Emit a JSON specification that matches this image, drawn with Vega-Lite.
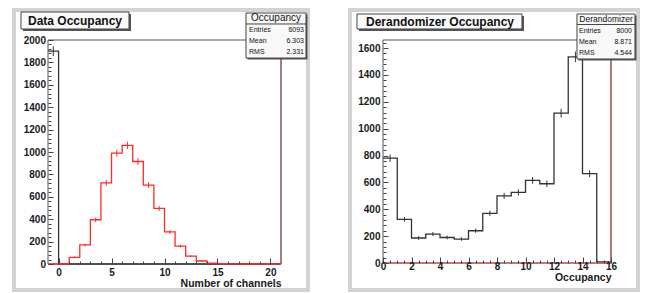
{
 "$schema": "https://vega.github.io/schema/vega-lite/v6.json",
 "background": "white",
 "padding": {"left": 12, "top": 7, "right": 5, "bottom": 2},
 "spacing": 102,
 "bounds": "flush",
 "config": {
   "view": {"stroke": null},
   "axis": {"domain": false, "grid": false, "labelFont": "Liberation Sans", "labelFontWeight": "bold", "labelFontSize": 10, "labelColor": "#1a1a1a", "tickColor": "#444444", "tickWidth": 1, "labelFlush": false, "labelOverlap": false, "titleFont": "Liberation Sans", "titleFontWeight": "bold", "titleFontSize": 10.5, "titleColor": "#1a1a1a"},
   "text": {"font": "Liberation Sans"}
 },
 "datasets": {
   "boxes": [
     {"p": "L", "title": "Data Occupancy", "name": "Occupancy", "keys": ["Entries", "Mean", "RMS"], "vals": ["6093", "6.303", "2.331"]},
     {"p": "R", "title": "Derandomizer Occupancy", "name": "Derandomizer", "keys": ["Entries", "Mean", "RMS"], "vals": ["8000", "8.871", "4.544"]}
   ],
   "hist": [
     {"p": "L", "s": "black", "x": -1, "c": -0.5, "n": 1900, "e": 44},
     {"p": "L", "s": "black", "x": 0, "c": 0.5, "n": 0, "e": 0},
     {"p": "L", "s": "black", "x": 1, "c": 1.5, "n": 0, "e": 0},
     {"p": "L", "s": "black", "x": 2, "c": 2.5, "n": 0, "e": 0},
     {"p": "L", "s": "black", "x": 3, "c": 3.5, "n": 0, "e": 0},
     {"p": "L", "s": "black", "x": 4, "c": 4.5, "n": 0, "e": 0},
     {"p": "L", "s": "black", "x": 5, "c": 5.5, "n": 0, "e": 0},
     {"p": "L", "s": "black", "x": 6, "c": 6.5, "n": 0, "e": 0},
     {"p": "L", "s": "black", "x": 7, "c": 7.5, "n": 0, "e": 0},
     {"p": "L", "s": "black", "x": 8, "c": 8.5, "n": 0, "e": 0},
     {"p": "L", "s": "black", "x": 9, "c": 9.5, "n": 0, "e": 0},
     {"p": "L", "s": "black", "x": 10, "c": 10.5, "n": 0, "e": 0},
     {"p": "L", "s": "black", "x": 11, "c": 11.5, "n": 0, "e": 0},
     {"p": "L", "s": "black", "x": 12, "c": 12.5, "n": 0, "e": 0},
     {"p": "L", "s": "black", "x": 13, "c": 13.5, "n": 0, "e": 0},
     {"p": "L", "s": "black", "x": 14, "c": 14.5, "n": 0, "e": 0},
     {"p": "L", "s": "black", "x": 15, "c": 15.5, "n": 0, "e": 0},
     {"p": "L", "s": "black", "x": 16, "c": 16.5, "n": 0, "e": 0},
     {"p": "L", "s": "black", "x": 17, "c": 17.5, "n": 0, "e": 0},
     {"p": "L", "s": "black", "x": 18, "c": 18.5, "n": 0, "e": 0},
     {"p": "L", "s": "black", "x": 19, "c": 19.5, "n": 0, "e": 0},
     {"p": "L", "s": "black", "x": 20, "c": 20.5, "n": 0, "e": 0},
     {"p": "L", "s": "black", "x": 21, "n": 0},
     {"p": "L", "s": "red", "x": -1, "c": -0.5, "n": 0, "e": 0},
     {"p": "L", "s": "red", "x": 0, "c": 0.5, "n": 0, "e": 0},
     {"p": "L", "s": "red", "x": 1, "c": 1.5, "n": 60, "e": 8},
     {"p": "L", "s": "red", "x": 2, "c": 2.5, "n": 170, "e": 13},
     {"p": "L", "s": "red", "x": 3, "c": 3.5, "n": 395, "e": 20},
     {"p": "L", "s": "red", "x": 4, "c": 4.5, "n": 725, "e": 27},
     {"p": "L", "s": "red", "x": 5, "c": 5.5, "n": 990, "e": 31},
     {"p": "L", "s": "red", "x": 6, "c": 6.5, "n": 1060, "e": 33},
     {"p": "L", "s": "red", "x": 7, "c": 7.5, "n": 915, "e": 30},
     {"p": "L", "s": "red", "x": 8, "c": 8.5, "n": 705, "e": 27},
     {"p": "L", "s": "red", "x": 9, "c": 9.5, "n": 497, "e": 22},
     {"p": "L", "s": "red", "x": 10, "c": 10.5, "n": 286, "e": 17},
     {"p": "L", "s": "red", "x": 11, "c": 11.5, "n": 160, "e": 13},
     {"p": "L", "s": "red", "x": 12, "c": 12.5, "n": 70, "e": 8},
     {"p": "L", "s": "red", "x": 13, "c": 13.5, "n": 27, "e": 5},
     {"p": "L", "s": "red", "x": 14, "c": 14.5, "n": 8, "e": 3},
     {"p": "L", "s": "red", "x": 15, "c": 15.5, "n": 3, "e": 2},
     {"p": "L", "s": "red", "x": 16, "c": 16.5, "n": 1, "e": 1},
     {"p": "L", "s": "red", "x": 17, "c": 17.5, "n": 0, "e": 0},
     {"p": "L", "s": "red", "x": 18, "c": 18.5, "n": 0, "e": 0},
     {"p": "L", "s": "red", "x": 19, "c": 19.5, "n": 0, "e": 0},
     {"p": "L", "s": "red", "x": 20, "c": 20.5, "n": 0, "e": 0},
     {"p": "L", "s": "red", "x": 21, "n": 0},
     {"p": "R", "s": "black", "x": 0, "c": 0.5, "n": 780, "e": 28},
     {"p": "R", "s": "black", "x": 1, "c": 1.5, "n": 325, "e": 18},
     {"p": "R", "s": "black", "x": 2, "c": 2.5, "n": 186, "e": 14},
     {"p": "R", "s": "black", "x": 3, "c": 3.5, "n": 215, "e": 15},
     {"p": "R", "s": "black", "x": 4, "c": 4.5, "n": 190, "e": 14},
     {"p": "R", "s": "black", "x": 5, "c": 5.5, "n": 178, "e": 13},
     {"p": "R", "s": "black", "x": 6, "c": 6.5, "n": 240, "e": 15},
     {"p": "R", "s": "black", "x": 7, "c": 7.5, "n": 370, "e": 19},
     {"p": "R", "s": "black", "x": 8, "c": 8.5, "n": 500, "e": 22},
     {"p": "R", "s": "black", "x": 9, "c": 9.5, "n": 525, "e": 23},
     {"p": "R", "s": "black", "x": 10, "c": 10.5, "n": 615, "e": 25},
     {"p": "R", "s": "black", "x": 11, "c": 11.5, "n": 590, "e": 24},
     {"p": "R", "s": "black", "x": 12, "c": 12.5, "n": 1115, "e": 33},
     {"p": "R", "s": "black", "x": 13, "c": 13.5, "n": 1535, "e": 39},
     {"p": "R", "s": "black", "x": 14, "c": 14.5, "n": 665, "e": 26},
     {"p": "R", "s": "black", "x": 15, "c": 15.5, "n": 8, "e": 3},
     {"p": "R", "s": "black", "x": 16, "n": 0}
   ]
 },
 "hconcat": [
  {
   "width": 233, "height": 224,
   "layer": [
    {
     "data": {"name": "boxes"}, "transform": [{"filter": "datum.p === 'L'"}],
     "layer": [
      {"mark": {"type": "rect", "fill": "white", "stroke": "#d3d3d3", "strokeWidth": 4},
       "encoding": {"x": {"datum": -4.21, "type": "quantitative", "scale": {"domain": [-1, 21], "nice": false, "zero": false}, "axis": null}, "x2": {"datum": 23.55},
                    "y": {"datum": 2268, "type": "quantitative", "scale": {"domain": [0, 2000], "nice": false, "zero": false}, "axis": null}, "y2": {"datum": -232}}},
      {"mark": {"type": "rect", "fill": "white", "fillOpacity": 0, "stroke": "#555555", "strokeWidth": 1},
       "encoding": {"x": {"datum": -1, "type": "quantitative", "scale": {"domain": [-1, 21], "nice": false, "zero": false}, "axis": null}, "x2": {"datum": 21},
                    "y": {"datum": 0, "type": "quantitative", "scale": {"domain": [0, 2000], "nice": false, "zero": false}, "axis": null}, "y2": {"datum": 2000}}}
     ]
    },
    {
     "data": {"name": "hist"}, "transform": [{"filter": "datum.p === 'L'"}],
     "resolve": {"axis": {"x": "independent", "y": "independent"}},
     "layer": [
      {"transform": [{"filter": "datum.s === 'black'"}],
       "mark": {"type": "line", "interpolate": "step-after", "strokeWidth": 1.3, "color": "#333333"},
       "encoding": {
        "x": {"field": "x", "type": "quantitative", "scale": {"domain": [-1, 21], "nice": false, "zero": false},
              "axis": {"zindex": 1, "orient": "bottom", "values": [0,1,2,3,4,6,7,8,9,11,12,13,14,16,17,18,19], "labels": false, "tickSize": -3, "title": null}},
        "y": {"field": "n", "type": "quantitative", "scale": {"domain": [0, 2000], "nice": false, "zero": false},
              "axis": {"zindex": 1, "orient": "left", "values": [40,80,120,160,240,280,320,360,440,480,520,560,640,680,720,760,840,880,920,960,1040,1080,1120,1160,1240,1280,1320,1360,1440,1480,1520,1560,1640,1680,1720,1760,1840,1880,1920,1960], "labels": false, "tickSize": -3, "title": null}}
       }},
      {"transform": [{"filter": "datum.s === 'red'"}],
       "mark": {"type": "line", "interpolate": "step-after", "strokeWidth": 1.3, "color": "#ff2a2a"},
       "encoding": {
        "x": {"field": "x", "type": "quantitative", "scale": {"domain": [-1, 21], "nice": false, "zero": false},
              "axis": {"zindex": 1, "orient": "bottom", "values": [0, 5, 10, 15, 20], "labelExpr": "'' + datum.value", "tickSize": -6, "labelPadding": 9.5,
                       "title": "Number of channels", "titleAnchor": "end", "titlePadding": 1}},
        "y": {"field": "n", "type": "quantitative", "scale": {"domain": [0, 2000], "nice": false, "zero": false},
              "axis": {"zindex": 1, "orient": "left", "values": [0,200,400,600,800,1000,1200,1400,1600,1800,2000], "labelExpr": "'' + datum.value", "tickSize": -5, "labelPadding": 7.5, "title": null}}
       }},
      {"mark": {"type": "errorbar", "thickness": 1},
       "encoding": {
        "x": {"field": "c", "type": "quantitative", "scale": {"domain": [-1, 21], "nice": false, "zero": false}, "axis": null},
        "y": {"field": "n", "type": "quantitative", "scale": {"domain": [0, 2000], "nice": false, "zero": false}, "axis": null},
        "yError": {"field": "e"},
        "color": {"field": "s", "type": "nominal", "scale": {"domain": ["red", "black"], "range": ["#ff2a2a", "#333333"]}, "legend": null}
       }}
     ]
    },
    {
     "data": {"name": "boxes"}, "transform": [{"filter": "datum.p === 'L'"}],
     "layer": [
      {"mark": {"type": "rule", "color": "#a85050", "strokeWidth": 1},
       "encoding": {"x": {"datum": 21, "type": "quantitative", "scale": {"domain": [-1, 21], "nice": false, "zero": false}, "axis": null},
                    "y": {"datum": 0, "type": "quantitative", "scale": {"domain": [0, 2000], "nice": false, "zero": false}, "axis": null}, "y2": {"datum": 2000}}},
      {"mark": {"type": "rect", "fill": "#555555"},
       "encoding": {"x": {"datum": -3.36, "type": "quantitative", "scale": {"domain": [-1, 21], "nice": false, "zero": false}, "axis": null}, "x2": {"datum": 6.837},
                    "y": {"datum": 2232, "type": "quantitative", "scale": {"domain": [0, 2000], "nice": false, "zero": false}, "axis": null}, "y2": {"datum": 2080}}},
      {"mark": {"type": "rect", "fill": "#fafafa", "stroke": "#444444", "strokeWidth": 1},
       "encoding": {"x": {"datum": -3.55, "type": "quantitative", "scale": {"domain": [-1, 21], "nice": false, "zero": false}, "axis": null}, "x2": {"datum": 6.648},
                    "y": {"datum": 2250, "type": "quantitative", "scale": {"domain": [0, 2000], "nice": false, "zero": false}, "axis": null}, "y2": {"datum": 2098}}},
      {"mark": {"type": "text", "fontSize": 12, "fontWeight": "bold", "color": "#111111", "align": "center", "baseline": "middle"},
       "encoding": {"x": {"datum": 1.55, "type": "quantitative", "scale": {"domain": [-1, 21], "nice": false, "zero": false}, "axis": null},
                    "y": {"datum": 2170, "type": "quantitative", "scale": {"domain": [0, 2000], "nice": false, "zero": false}, "axis": null},
                    "text": {"field": "title"}}},
      {"mark": {"type": "rect", "fill": "#555555"},
       "encoding": {"x": {"datum": 17.84, "type": "quantitative", "scale": {"domain": [-1, 21], "nice": false, "zero": false}, "axis": null}, "x2": {"datum": 23.5},
                    "y": {"datum": 2228, "type": "quantitative", "scale": {"domain": [0, 2000], "nice": false, "zero": false}, "axis": null}, "y2": {"datum": 1826}}},
      {"mark": {"type": "rect", "fill": "#f8f8f8", "stroke": "#444444", "strokeWidth": 1},
       "encoding": {"x": {"datum": 17.695, "type": "quantitative", "scale": {"domain": [-1, 21], "nice": false, "zero": false}, "axis": null}, "x2": {"datum": 23.36},
                    "y": {"datum": 2241, "type": "quantitative", "scale": {"domain": [0, 2000], "nice": false, "zero": false}, "axis": null}, "y2": {"datum": 1839}}},
      {"mark": {"type": "rule", "color": "#444444", "strokeWidth": 1},
       "encoding": {"x": {"datum": 17.695, "type": "quantitative", "scale": {"domain": [-1, 21], "nice": false, "zero": false}, "axis": null}, "x2": {"datum": 23.36},
                    "y": {"datum": 2143, "type": "quantitative", "scale": {"domain": [0, 2000], "nice": false, "zero": false}, "axis": null}}},
      {"mark": {"type": "text", "fontSize": 10, "color": "#111111", "align": "center", "baseline": "middle"},
       "encoding": {"x": {"datum": 20.53, "type": "quantitative", "scale": {"domain": [-1, 21], "nice": false, "zero": false}, "axis": null},
                    "y": {"datum": 2192, "type": "quantitative", "scale": {"domain": [0, 2000], "nice": false, "zero": false}, "axis": null},
                    "text": {"field": "name"}}},
      {"mark": {"type": "text", "fontSize": 7, "color": "#111111", "align": "left", "baseline": "middle", "lineHeight": 11},
       "encoding": {"x": {"datum": 17.98, "type": "quantitative", "scale": {"domain": [-1, 21], "nice": false, "zero": false}, "axis": null},
                    "y": {"datum": 2089, "type": "quantitative", "scale": {"domain": [0, 2000], "nice": false, "zero": false}, "axis": null},
                    "text": {"field": "keys"}}},
      {"mark": {"type": "text", "fontSize": 7, "color": "#111111", "align": "right", "baseline": "middle", "lineHeight": 11},
       "encoding": {"x": {"datum": 23.17, "type": "quantitative", "scale": {"domain": [-1, 21], "nice": false, "zero": false}, "axis": null},
                    "y": {"datum": 2089, "type": "quantitative", "scale": {"domain": [0, 2000], "nice": false, "zero": false}, "axis": null},
                    "text": {"field": "vals"}}}
     ]
    }
   ]
  },
  {
   "width": 228, "height": 223,
   "layer": [
    {
     "data": {"name": "boxes"}, "transform": [{"filter": "datum.p === 'R'"}],
     "layer": [
      {"mark": {"type": "rect", "fill": "white", "stroke": "#d3d3d3", "strokeWidth": 4},
       "encoding": {"x": {"datum": -2.316, "type": "quantitative", "scale": {"domain": [0, 16], "nice": false, "zero": false}, "axis": null}, "x2": {"datum": 17.895},
                    "y": {"datum": 1883, "type": "quantitative", "scale": {"domain": [0, 1660], "nice": false, "zero": false}, "axis": null}, "y2": {"datum": -201}}},
      {"mark": {"type": "rect", "fill": "white", "fillOpacity": 0, "stroke": "#555555", "strokeWidth": 1},
       "encoding": {"x": {"datum": 0, "type": "quantitative", "scale": {"domain": [0, 16], "nice": false, "zero": false}, "axis": null}, "x2": {"datum": 16},
                    "y": {"datum": 0, "type": "quantitative", "scale": {"domain": [0, 1660], "nice": false, "zero": false}, "axis": null}, "y2": {"datum": 1660}}}
     ]
    },
    {
     "data": {"name": "hist"}, "transform": [{"filter": "datum.p === 'R'"}],
     "resolve": {"axis": {"x": "independent", "y": "independent"}},
     "layer": [
      {"mark": {"type": "line", "interpolate": "step-after", "strokeWidth": 1.3, "color": "#333333"},
       "encoding": {
        "x": {"field": "x", "type": "quantitative", "scale": {"domain": [0, 16], "nice": false, "zero": false},
              "axis": {"zindex": 1, "orient": "bottom", "values": [0, 2, 4, 6, 8, 10, 12, 14, 16], "labelExpr": "'' + datum.value", "tickSize": -6, "labelPadding": 4.5,
                       "title": "Occupancy", "titleAnchor": "end", "titlePadding": 1}},
        "y": {"field": "n", "type": "quantitative", "scale": {"domain": [0, 1660], "nice": false, "zero": false},
              "axis": {"zindex": 1, "orient": "left", "values": [0,200,400,600,800,1000,1200,1400,1600], "labelExpr": "'' + datum.value", "tickSize": -5, "labelPadding": 8, "title": null}}
       }},
      {"mark": {"type": "errorbar", "thickness": 1, "color": "#333333"},
       "encoding": {
        "x": {"field": "c", "type": "quantitative", "scale": {"domain": [0, 16], "nice": false, "zero": false},
              "axis": {"zindex": 1, "orient": "bottom", "values": [0.5,1,1.5,2.5,3,3.5,4.5,5,5.5,6.5,7,7.5,8.5,9,9.5,10.5,11,11.5,12.5,13,13.5,14.5,15,15.5], "labels": false, "tickSize": -3, "title": null}},
        "y": {"field": "n", "type": "quantitative", "scale": {"domain": [0, 1660], "nice": false, "zero": false},
              "axis": {"zindex": 1, "orient": "left", "values": [40,80,120,160,240,280,320,360,440,480,520,560,640,680,720,760,840,880,920,960,1040,1080,1120,1160,1240,1280,1320,1360,1440,1480,1520,1560,1640], "labels": false, "tickSize": -3, "title": null}},
        "yError": {"field": "e"}
       }}
     ]
    },
    {
     "data": {"name": "boxes"}, "transform": [{"filter": "datum.p === 'R'"}],
     "layer": [
      {"mark": {"type": "rule", "color": "#e04848", "strokeWidth": 1.2},
       "encoding": {"x": {"datum": 0, "type": "quantitative", "scale": {"domain": [0, 16], "nice": false, "zero": false}, "axis": null}, "x2": {"datum": 16},
                    "y": {"datum": 0, "type": "quantitative", "scale": {"domain": [0, 1660], "nice": false, "zero": false}, "axis": null}}},
      {"mark": {"type": "rule", "color": "#b04848", "strokeWidth": 1},
       "encoding": {"x": {"datum": 16, "type": "quantitative", "scale": {"domain": [0, 16], "nice": false, "zero": false}, "axis": null},
                    "y": {"datum": 0, "type": "quantitative", "scale": {"domain": [0, 1660], "nice": false, "zero": false}, "axis": null}, "y2": {"datum": 1660}}},
      {"mark": {"type": "rect", "fill": "#555555"},
       "encoding": {"x": {"datum": -1.684, "type": "quantitative", "scale": {"domain": [0, 16], "nice": false, "zero": false}, "axis": null}, "x2": {"datum": 9.895},
                    "y": {"datum": 1838.7, "type": "quantitative", "scale": {"domain": [0, 1660], "nice": false, "zero": false}, "axis": null}, "y2": {"datum": 1727}}},
      {"mark": {"type": "rect", "fill": "#fafafa", "stroke": "#444444", "strokeWidth": 1},
       "encoding": {"x": {"datum": -1.825, "type": "quantitative", "scale": {"domain": [0, 16], "nice": false, "zero": false}, "axis": null}, "x2": {"datum": 9.754},
                    "y": {"datum": 1853.6, "type": "quantitative", "scale": {"domain": [0, 1660], "nice": false, "zero": false}, "axis": null}, "y2": {"datum": 1742}}},
      {"mark": {"type": "text", "fontSize": 12, "fontWeight": "bold", "color": "#111111", "align": "center", "baseline": "middle"},
       "encoding": {"x": {"datum": 4.0, "type": "quantitative", "scale": {"domain": [0, 16], "nice": false, "zero": false}, "axis": null},
                    "y": {"datum": 1797.7, "type": "quantitative", "scale": {"domain": [0, 1660], "nice": false, "zero": false}, "axis": null},
                    "text": {"field": "title"}}},
      {"mark": {"type": "rect", "fill": "#555555"},
       "encoding": {"x": {"datum": 13.719, "type": "quantitative", "scale": {"domain": [0, 16], "nice": false, "zero": false}, "axis": null}, "x2": {"datum": 17.789},
                    "y": {"datum": 1842.4, "type": "quantitative", "scale": {"domain": [0, 1660], "nice": false, "zero": false}, "axis": null}, "y2": {"datum": 1507.4}}},
      {"mark": {"type": "rect", "fill": "#f8f8f8", "stroke": "#444444", "strokeWidth": 1},
       "encoding": {"x": {"datum": 13.614, "type": "quantitative", "scale": {"domain": [0, 16], "nice": false, "zero": false}, "axis": null}, "x2": {"datum": 17.684},
                    "y": {"datum": 1853.6, "type": "quantitative", "scale": {"domain": [0, 1660], "nice": false, "zero": false}, "axis": null}, "y2": {"datum": 1518.6}}},
      {"mark": {"type": "rule", "color": "#444444", "strokeWidth": 1},
       "encoding": {"x": {"datum": 13.614, "type": "quantitative", "scale": {"domain": [0, 16], "nice": false, "zero": false}, "axis": null}, "x2": {"datum": 17.684},
                    "y": {"datum": 1775.4, "type": "quantitative", "scale": {"domain": [0, 1660], "nice": false, "zero": false}, "axis": null}}},
      {"mark": {"type": "text", "fontSize": 8.5, "color": "#111111", "align": "center", "baseline": "middle"},
       "encoding": {"x": {"datum": 15.65, "type": "quantitative", "scale": {"domain": [0, 16], "nice": false, "zero": false}, "axis": null},
                    "y": {"datum": 1816.3, "type": "quantitative", "scale": {"domain": [0, 1660], "nice": false, "zero": false}, "axis": null},
                    "text": {"field": "name"}}},
      {"mark": {"type": "text", "fontSize": 7, "color": "#111111", "align": "left", "baseline": "middle", "lineHeight": 11},
       "encoding": {"x": {"datum": 13.754, "type": "quantitative", "scale": {"domain": [0, 16], "nice": false, "zero": false}, "axis": null},
                    "y": {"datum": 1727, "type": "quantitative", "scale": {"domain": [0, 1660], "nice": false, "zero": false}, "axis": null},
                    "text": {"field": "keys"}}},
      {"mark": {"type": "text", "fontSize": 7, "color": "#111111", "align": "right", "baseline": "middle", "lineHeight": 11},
       "encoding": {"x": {"datum": 17.474, "type": "quantitative", "scale": {"domain": [0, 16], "nice": false, "zero": false}, "axis": null},
                    "y": {"datum": 1727, "type": "quantitative", "scale": {"domain": [0, 1660], "nice": false, "zero": false}, "axis": null},
                    "text": {"field": "vals"}}}
     ]
    }
   ]
  }
 ]
}
